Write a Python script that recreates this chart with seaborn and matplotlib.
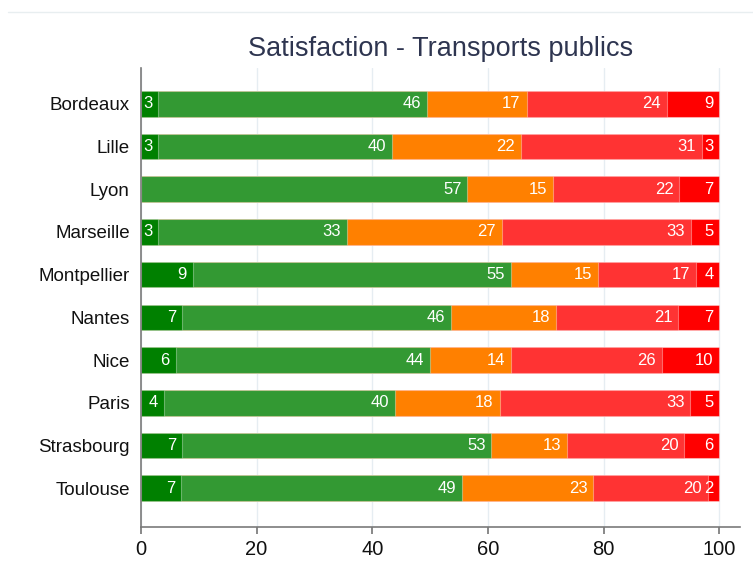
import matplotlib
matplotlib.use("Agg")
import matplotlib.pyplot as plt
import seaborn as sns
import numpy as np
import pandas as pd
from matplotlib.lines import Line2D

cities = ["Bordeaux", "Lille", "Lyon", "Marseille", "Montpellier",
          "Nantes", "Nice", "Paris", "Strasbourg", "Toulouse"]
tres_satisfait = [3, 3, 0, 3, 9, 7, 6, 4, 7, 7]
plutot_satisfait = [46, 40, 57, 33, 55, 46, 44, 40, 53, 49]
neutre = [17, 22, 15, 27, 15, 18, 14, 18, 13, 23]
plutot_insatisfait = [24, 31, 22, 33, 17, 21, 26, 33, 20, 20]
tres_insatisfait = [9, 3, 7, 5, 4, 7, 10, 5, 6, 2]

series = [tres_satisfait, plutot_satisfait, neutre, plutot_insatisfait, tres_insatisfait]
colors = ["#008000", "#339933", "#ff8000", "#ff3333", "#ff0000"]
title = "Satisfaction - Transports publics"

sns.set_theme(style="white")
plt.rcParams["font.family"] = ["Liberation Sans", "DejaVu Sans"]

vals = np.array(series, dtype=float)
totals = vals.sum(axis=0)
pct = vals / totals * 100
cum = np.cumsum(pct, axis=0)

fig = plt.figure(figsize=(7.53, 5.76), dpi=100)
ax = fig.add_axes([0.187, 0.085, 0.796, 0.797])

for i in range(len(series) - 1, -1, -1):
    df = pd.DataFrame({"city": cities, "val": cum[i]})
    sns.barplot(data=df, x="val", y="city", orient="h", color=colors[i],
                width=0.6, saturation=1, ax=ax, edgecolor=(1, 1, 1, 0.35),
                linewidth=0.8, zorder=2)

for i in range(len(series)):
    for j, c in enumerate(cities):
        v = series[i][j]
        if v <= 0:
            continue
        ax.text(cum[i][j] - 1.0, j, str(v), ha="right", va="center",
                color="white", fontsize=12, zorder=5)

ax.set_xlim(0, 103.6)
ax.set_ylim(9.91, -0.84)
ax.set_xticks([0, 20, 40, 60, 80, 100])
ax.set_xlabel("")
ax.set_ylabel("")
ax.xaxis.grid(True, color="#e6edf2", linewidth=1, zorder=0)
ax.set_axisbelow(True)
for s in ["top", "right"]:
    ax.spines[s].set_visible(False)
for s in ["left", "bottom"]:
    ax.spines[s].set_color("#7a7a7a")
    ax.spines[s].set_linewidth(1.2)
ax.tick_params(axis="x", bottom=True, length=5, color="#7a7a7a",
               labelsize=14.5, labelcolor="#111111", pad=4)
ax.tick_params(axis="y", left=False, labelsize=13.5, labelcolor="#111111", pad=2)

fig.text(0.585, 0.915, title, ha="center", va="center", fontsize=19.5,
         color="#2e3550")
fig.add_artist(Line2D([0.01, 1.0], [0.979, 0.979], transform=fig.transFigure,
                      color="#e8eef0", linewidth=1))

fig.savefig("out.png", dpi=100)
